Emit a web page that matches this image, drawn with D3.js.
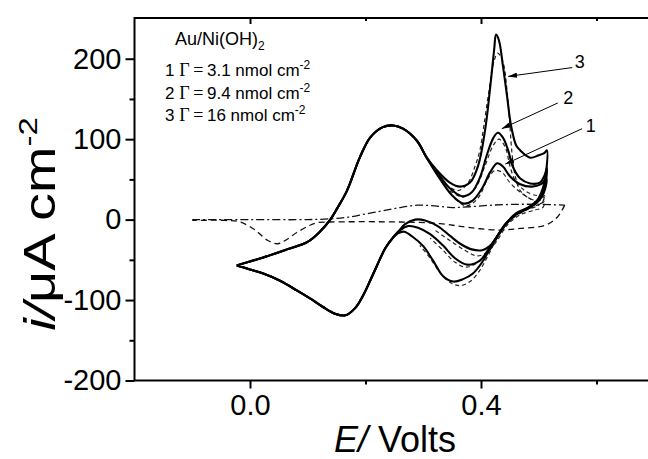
<!DOCTYPE html>
<html>
<head>
<meta charset="utf-8">
<script src="https://cdn.jsdelivr.net/npm/d3@7"></script>
<style>
  body { margin: 0; background: #fff; }
  svg { display: block; }
  text { font-family: "Liberation Sans", Arial, sans-serif; fill: #000; }
</style>
</head>
<body>
<div id="chart"></div>
<script>
// values: [E (V), i (uA cm-2)]
const sharedAnodic = [[-0.023,-57],[0.023,-47],[0.064,-37],[0.099,-28],[0.121,-15],[0.139,0],[0.151,14],[0.168,36],
  [0.190,77],[0.208,102],[0.230,115],[0.248,117],[0.265,113],[0.289,98],[0.306,77]];
const sharedCathodic = [[0.248,-22],[0.234,-36],[0.220,-57],[0.208,-76],[0.196,-94],[0.182,-110],[0.165,-119],
  [0.147,-117],[0.125,-108],[0.104,-98],[0.081,-88],[0.052,-76],[0.023,-67],[0.000,-62],[-0.023,-57]];

const ni3Anodic = [[0.324,61],[0.346,46],[0.364,41],[0.381,46],[0.395,67],[0.407,111],[0.416,165],[0.423,213],
  [0.426,230],[0.431,223],[0.438,191],[0.445,154],[0.452,117],[0.461,92],[0.468,86],[0.485,77],[0.500,80],[0.510,83],[0.514,86]];
const ni3Cathodic = [[0.513,61],[0.507,39],[0.497,24],[0.481,15],[0.461,8],[0.442,-6],[0.426,-23],[0.414,-38],
  [0.402,-53],[0.386,-67],[0.369,-74],[0.352,-77],[0.334,-70],[0.317,-51],[0.300,-33],[0.281,-21],[0.267,-15],[0.256,-17]];

const ni2Anodic = [[0.324,59],[0.346,39],[0.367,29],[0.384,34],[0.398,52],[0.410,80],[0.421,101],[0.429,108],
  [0.438,102],[0.447,86],[0.455,66],[0.468,51],[0.485,45],[0.502,46],[0.510,55],[0.514,64]];
const ni2Cathodic = [[0.512,45],[0.506,32],[0.497,22],[0.481,14],[0.461,7],[0.443,-5],[0.427,-22],[0.412,-38],
  [0.398,-51],[0.376,-56],[0.355,-48],[0.334,-32],[0.312,-18],[0.291,-10],[0.274,-8],[0.260,-13]];

const ni1Anodic = [[0.324,56],[0.350,30],[0.369,20],[0.386,24],[0.402,39],[0.416,59],[0.428,70],[0.438,66],
  [0.450,54],[0.468,44],[0.488,41],[0.504,44],[0.513,51]];
const ni1Cathodic = [[0.511,38],[0.505,28],[0.495,20],[0.479,13],[0.460,6],[0.442,-6],[0.427,-22],[0.415,-33],
  [0.402,-38],[0.384,-37],[0.364,-30],[0.346,-20],[0.325,-8],[0.303,-1],[0.286,0],[0.268,-6],[0.258,-14]];

// dashed traces around the Ni(OH)2 / NiOOH waves
const dashed3 = [[0.338,44],[0.360,36],[0.377,45],[0.390,67],[0.398,86],[0.405,117],[0.414,161],[0.423,198],
  [0.429,207],[0.438,196],[0.445,161],[0.450,117],[0.454,80],[0.459,55],[0.468,36],[0.485,26],[0.502,24],[0.510,30],
  [0.507,22],[0.494,17],[0.468,9],[0.445,-5],[0.428,-23],[0.412,-45],[0.398,-63],[0.381,-77],[0.364,-82],[0.346,-78],
  [0.329,-66],[0.312,-48],[0.294,-32]];
const dashed2 = [[0.346,36],[0.369,28],[0.390,39],[0.407,67],[0.421,92],[0.431,100],[0.442,90],[0.450,67],
  [0.459,49],[0.476,36],[0.497,30],[0.508,32],[0.509,26],[0.500,18],[0.476,11],[0.450,-1],[0.429,-22],[0.412,-41],
  [0.395,-53],[0.374,-59],[0.355,-53],[0.334,-38],[0.312,-23]];
const dashed1 = [[0.355,26],[0.374,17],[0.394,26],[0.412,51],[0.424,61],[0.436,59],[0.450,46],[0.468,34],
  [0.485,26],[0.502,20],[0.510,22],[0.507,15],[0.494,12],[0.468,6],[0.445,-7],[0.428,-26],[0.410,-41],[0.393,-45],
  [0.372,-38],[0.346,-26],[0.320,-13]];

// bare Au electrode
const blankAnodic = [[-0.1,0],[0.0,0],[0.1,0],[0.14,1],[0.17,3],[0.2,7],[0.23,11],[0.26,15],[0.29,18],[0.32,17],
  [0.35,15],[0.38,16],[0.42,18],[0.46,19],[0.50,19],[0.545,18]];
const blankCathodic = [[0.545,18],[0.532,3],[0.511,-7],[0.468,-11],[0.433,-13],[0.381,-10],[0.329,-5],[0.260,-3],
  [0.139,-3],[0.115,-4],[0.104,-7],[0.081,-16],[0.061,-26],[0.048,-30],[0.031,-26],[0.009,-13],[-0.017,-3],[-0.043,-1],[-0.1,-1]];

const yMajor = [-200, -100, 0, 100, 200];
const yMinor = [-150, -50, 50, 150];
const xMajor = [0.0, 0.4];
const xMinor = [0.2, 0.6];

const curveNames = ["3", "2", "1"];
const nameAt = [[0.571,196],[0.551,152],[0.590,117]];
const arrowFrom = [[0.558,189],[0.533,145],[0.575,113]];
const arrowTo = [[0.447,178],[0.436,113],[0.442,69]];

const legendRows = [["1", "3.1"], ["2", "9.4"], ["3", "16"]];

const width = 648, height = 459;

const x = d3.scaleLinear().domain([-0.2, 0.7]).range([134.5, 654.25]);
const y = d3.scaleLinear().domain([-200, 250]).range([380.5, 18.5]);

const svg = d3.select("#chart").append("svg")
  .attr("width", width)
  .attr("height", height);

svg.append("defs").append("marker")
  .attr("id", "head")
  .attr("viewBox", "0 0 10 6")
  .attr("refX", 10).attr("refY", 3)
  .attr("markerWidth", 9).attr("markerHeight", 5.4)
  .attr("markerUnits", "userSpaceOnUse")
  .attr("orient", "auto")
  .append("path").attr("d", "M0,0L10,3L0,6Z").attr("fill", "#000");

const line = d3.line()
  .x(d => x(d[0]))
  .y(d => y(d[1]))
  .curve(d3.curveCatmullRom.alpha(0.5));

// blank Au
svg.append("path").attr("d", line(blankAnodic))
  .attr("fill", "none").attr("stroke", "#111").attr("stroke-width", 1.3)
  .attr("stroke-dasharray", "8,3,2,3");
svg.append("path").attr("d", line(blankCathodic))
  .attr("fill", "none").attr("stroke", "#111").attr("stroke-width", 1.3)
  .attr("stroke-dasharray", "6,4");

// dashed traces
[dashed3, dashed2, dashed1].forEach(d => {
  svg.append("path").attr("d", line(d))
    .attr("fill", "none").attr("stroke", "#222").attr("stroke-width", 1.2)
    .attr("stroke-dasharray", "4,3");
});

// solid CVs
const cvs = [
  sharedAnodic.concat(ni1Anodic, ni1Cathodic, sharedCathodic),
  sharedAnodic.concat(ni2Anodic, ni2Cathodic, sharedCathodic),
  sharedAnodic.concat(ni3Anodic, ni3Cathodic, sharedCathodic)
];
cvs.forEach(d => {
  svg.append("path").attr("d", line(d))
    .attr("fill", "none").attr("stroke", "#000").attr("stroke-width", 2.1)
    .attr("stroke-linejoin", "round");
});

// arrows + curve numbers
curveNames.forEach((n, k) => {
  svg.append("line")
    .attr("x1", x(arrowFrom[k][0])).attr("y1", y(arrowFrom[k][1]))
    .attr("x2", x(arrowTo[k][0])).attr("y2", y(arrowTo[k][1]))
    .attr("stroke", "#000").attr("stroke-width", 1)
    .attr("marker-end", "url(#head)");
  svg.append("text")
    .attr("x", x(nameAt[k][0])).attr("y", y(nameAt[k][1]))
    .attr("dy", "0.35em").attr("text-anchor", "middle")
    .attr("font-size", 18).text(n);
});

// axes
const axisG = svg.append("g");
function styleAxis(g) {
  g.select(".domain").remove();
  g.selectAll(".tick line").attr("stroke", "#000").attr("stroke-width", 2);
  g.selectAll(".tick text").attr("font-size", 29).attr("font-family", '"Liberation Sans", Arial, sans-serif');
}
axisG.append("g").attr("transform", "translate(134.5,0)")
  .call(d3.axisLeft(y).tickValues(yMajor).tickSize(9).tickPadding(4).tickFormat(d => String(d)))
  .call(styleAxis);
axisG.append("g").attr("transform", "translate(134.5,0)")
  .call(d3.axisLeft(y).tickValues(yMinor).tickSize(5).tickFormat(""))
  .call(styleAxis);
axisG.append("g").attr("transform", "translate(0,380.5)")
  .call(d3.axisBottom(x).tickValues(xMajor).tickSize(8).tickPadding(6).tickFormat(d3.format(".1f")))
  .call(styleAxis);
axisG.append("g").attr("transform", "translate(0,380.5)")
  .call(d3.axisBottom(x).tickValues(xMinor).tickSize(4).tickFormat(""))
  .call(styleAxis);
axisG.append("g").attr("transform", "translate(0,18)")
  .call(d3.axisBottom(x).tickValues(xMajor).tickSize(6).tickFormat(""))
  .call(styleAxis);
axisG.append("g").attr("transform", "translate(0,18)")
  .call(d3.axisBottom(x).tickValues(xMinor).tickSize(3).tickFormat(""))
  .call(styleAxis);

// frame (left, top, bottom)
svg.append("path")
  .attr("d", `M${width},18H134.5V380.5H${width}`)
  .attr("fill", "none").attr("stroke", "#000").attr("stroke-width", 2);

// axis titles
const xt = svg.append("text").attr("x", 395).attr("y", 452)
  .attr("text-anchor", "middle").attr("font-size", 36);
xt.append("tspan").attr("font-style", "italic").text("E/");
xt.append("tspan").text(" Volts");

const yt = svg.append("text")
  .attr("transform", "translate(55,224) rotate(-90) scale(1.27,1)")
  .attr("text-anchor", "middle").attr("font-size", 44);
yt.append("tspan").attr("font-style", "italic").text("i/");
yt.append("tspan").text("\u03bcA cm");
yt.append("tspan").attr("font-size", 26).attr("dy", -18).text("-2");

// legend block
const legend = svg.append("g");
const t0 = legend.append("text").attr("x", 175).attr("y", 45).attr("font-size", 18);
t0.append("tspan").text("Au/Ni(OH)");
t0.append("tspan").attr("font-size", 12).attr("dy", 5).text("2");

legendRows.forEach((r, k) => {
  const t = legend.append("text").attr("x", 165).attr("y", 76 + k * 22.5).attr("font-size", 17);
  t.append("tspan").text(r[0] + " ");
  t.append("tspan").attr("font-family", '"Liberation Serif", serif').attr("font-size", 18).text("\u0393\u2009=\u2009");
  t.append("tspan").text(r[1] + " nmol cm");
  t.append("tspan").attr("font-size", 12).attr("dy", -7).text("-2");
});
</script>
</body>
</html>
